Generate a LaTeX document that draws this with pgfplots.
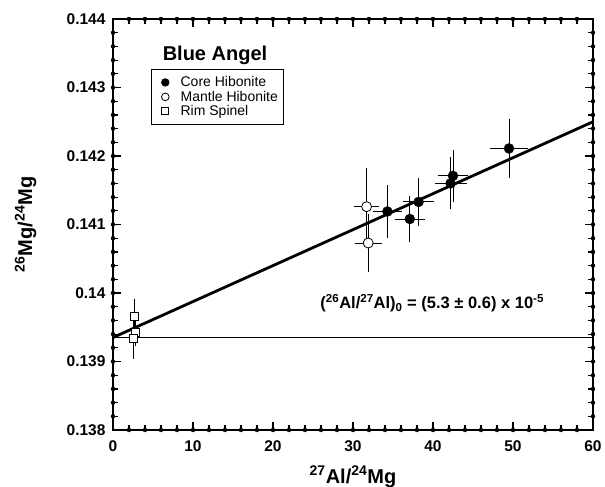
\documentclass[border=0pt]{standalone}
\usepackage{fontspec}
\setmainfont{Liberation Sans}
\usepackage{pgfplots}
\pgfplotsset{compat=1.18}

\pgfplotsset{
  tickbar/.style={only marks, mark=none, forget plot, error bars/error mark=none,
    error bars/error bar style={line width=#1, black}},
}

\begin{document}
\begin{tikzpicture}
\begin{axis}[
  name=main,
  scale only axis,
  width=480bp, height=411bp,
  xmin=0, xmax=60, ymin=0.138, ymax=0.144,
  xtick={0,10,20,30,40,50,60},
  xticklabels={0,10,20,30,40,50,60},
  ytick={0.138,0.139,0.140,0.141,0.142,0.143,0.144},
  yticklabels={0.138,0.139,0.14,0.141,0.142,0.143,0.144},
  scaled y ticks=false,
  major tick length=0pt, minor tick length=0pt,
  axis line style={line width=1.8bp},
  tick label style={font=\fontsize{15.5bp}{17bp}\selectfont\bfseries},
  xticklabel style={yshift=-7bp},
  yticklabel style={xshift=-4bp},
  xlabel={\textsuperscript{27}Al/\textsuperscript{24}Mg},
  ylabel={\textsuperscript{26}Mg/\textsuperscript{24}Mg},
  every axis x label/.style={at={(axis description cs:0.5,-0.114)}, anchor=center,
    font=\fontsize{20bp}{22bp}\selectfont\bfseries},
  every axis y label/.style={at={(axis description cs:-0.182,0.5)}, rotate=90, anchor=center,
    font=\fontsize{20bp}{22bp}\selectfont\bfseries},
  legend style={at={(axis cs:4.7,0.143266)}, anchor=north west,
    draw=black, line width=0.7bp, font=\fontsize{14bp}{16bp}\selectfont,
    row sep=-1.2bp, inner xsep=3bp, inner ysep=5bp},
  legend cell align=left,
  legend image code/.code={\draw[#1] plot coordinates {(11bp,0bp)}; \path (0bp,0bp) (24bp,0bp);},
]
% inward ticks on all four sides, drawn as fixed error bars
\addplot[tickbar=1.2bp, error bars/.cd, y dir=plus, y fixed=0.000073] coordinates {
  (2,0.138)(4,0.138)(6,0.138)(8,0.138)(12,0.138)(14,0.138)(16,0.138)(18,0.138)
  (22,0.138)(24,0.138)(26,0.138)(28,0.138)(32,0.138)(34,0.138)(36,0.138)(38,0.138)
  (42,0.138)(44,0.138)(46,0.138)(48,0.138)(52,0.138)(54,0.138)(56,0.138)(58,0.138)};
\addplot[tickbar=1.2bp, error bars/.cd, y dir=minus, y fixed=0.000073] coordinates {
  (2,0.144)(4,0.144)(6,0.144)(8,0.144)(12,0.144)(14,0.144)(16,0.144)(18,0.144)
  (22,0.144)(24,0.144)(26,0.144)(28,0.144)(32,0.144)(34,0.144)(36,0.144)(38,0.144)
  (42,0.144)(44,0.144)(46,0.144)(48,0.144)(52,0.144)(54,0.144)(56,0.144)(58,0.144)};
\addplot[tickbar=1.4bp, error bars/.cd, y dir=plus, y fixed=0.000124] coordinates {
  (10,0.138)(20,0.138)(30,0.138)(40,0.138)(50,0.138)};
\addplot[tickbar=1.4bp, error bars/.cd, y dir=minus, y fixed=0.000124] coordinates {
  (10,0.144)(20,0.144)(30,0.144)(40,0.144)(50,0.144)};
\addplot[tickbar=1.2bp, error bars/.cd, x dir=plus, x fixed=0.625] coordinates {
  (0,0.1382)(0,0.1384)(0,0.1386)(0,0.1388)(0,0.1392)(0,0.1394)(0,0.1396)(0,0.1398)
  (0,0.1402)(0,0.1404)(0,0.1406)(0,0.1408)(0,0.1412)(0,0.1414)(0,0.1416)(0,0.1418)
  (0,0.1422)(0,0.1424)(0,0.1426)(0,0.1428)(0,0.1432)(0,0.1434)(0,0.1436)(0,0.1438)};
\addplot[tickbar=1.2bp, error bars/.cd, x dir=minus, x fixed=0.625] coordinates {
  (60,0.1382)(60,0.1384)(60,0.1386)(60,0.1388)(60,0.1392)(60,0.1394)(60,0.1396)(60,0.1398)
  (60,0.1402)(60,0.1404)(60,0.1406)(60,0.1408)(60,0.1412)(60,0.1414)(60,0.1416)(60,0.1418)
  (60,0.1422)(60,0.1424)(60,0.1426)(60,0.1428)(60,0.1432)(60,0.1434)(60,0.1436)(60,0.1438)};
\addplot[tickbar=1.4bp, error bars/.cd, x dir=plus, x fixed=1.06] coordinates {
  (0,0.139)(0,0.140)(0,0.141)(0,0.142)(0,0.143)};
\addplot[tickbar=1.4bp, error bars/.cd, x dir=minus, x fixed=1.06] coordinates {
  (60,0.139)(60,0.140)(60,0.141)(60,0.142)(60,0.143)};

% isochron and reference line
\addplot[black, line width=2.8bp, forget plot] coordinates {(0,0.13935) (60,0.14250)};
\addplot[black, line width=1.5bp, forget plot] coordinates {(0,0.13935) (60,0.13935)};

% rim spinel
\addplot[only marks, mark=square*, mark size=4bp, mark options={fill=white, draw=black, line width=0.8bp},
  forget plot,
  error bars/.cd, x dir=both, x explicit, y dir=both, y explicit,
  error bar style={line width=0.8bp, black}, error mark=none]
  coordinates {
  (2.66,0.13966) +- (0.3,0.00025)
  (2.75,0.13942) +- (0.3,0.00020)
  (2.50,0.13934) +- (0.3,0.00031)
  };

% mantle hibonite
\addplot[only marks, mark=*, mark size=5bp, mark options={fill=white, draw=black, line width=0.8bp},
  forget plot,
  error bars/.cd, x dir=both, x explicit, y dir=both, y explicit,
  error bar style={line width=0.8bp, black}, error mark=none]
  coordinates {
  (31.7,0.14126) +- (1.6,0.00056)
  (31.9,0.14073) +- (1.7,0.00042)
  };

% core hibonite
\addplot[only marks, mark=*, mark size=5bp, black, forget plot,
  error bars/.cd, x dir=both, x explicit, y dir=both, y explicit,
  error bar style={line width=0.8bp, black}, error mark=none]
  coordinates {
  (34.3,0.14119) +- (1.8,0.00038)
  (37.1,0.14108) +- (1.9,0.00033)
  (38.2,0.14133) +- (1.9,0.00035)
  (42.5,0.14171) +- (1.9,0.00038)
  (42.2,0.14160) +- (2.0,0.00038)
  (49.5,0.14211) +- (2.4,0.00043)
  };

\addlegendimage{only marks, mark=*, mark size=3.8bp, black}
\addlegendentry{Core Hibonite}
\addlegendimage{only marks, mark=*, mark size=3.8bp, mark options={fill=white, draw=black, line width=0.8bp}}
\addlegendentry{Mantle Hibonite}
\addlegendimage{only marks, mark=square*, mark size=3.4bp, mark options={fill=white, draw=black, line width=0.8bp}}
\addlegendentry{Rim Spinel}

\node[font=\fontsize{20bp}{22bp}\selectfont\bfseries] at (axis cs:12.75,0.14347) {Blue Angel};
\node[font=\fontsize{16.5bp}{18bp}\selectfont\bfseries] at (axis cs:39.9,0.13985)
  {(\textsuperscript{26}Al/\textsuperscript{27}Al)\textsubscript{0} = (5.3 ± 0.6) x 10\textsuperscript{-5}};
\end{axis}
\pgfresetboundingbox
\path[use as bounding box] ([xshift=-113bp,yshift=-57bp]main.south west) rectangle ([xshift=12bp,yshift=19bp]main.north east);
\end{tikzpicture}
\end{document}
